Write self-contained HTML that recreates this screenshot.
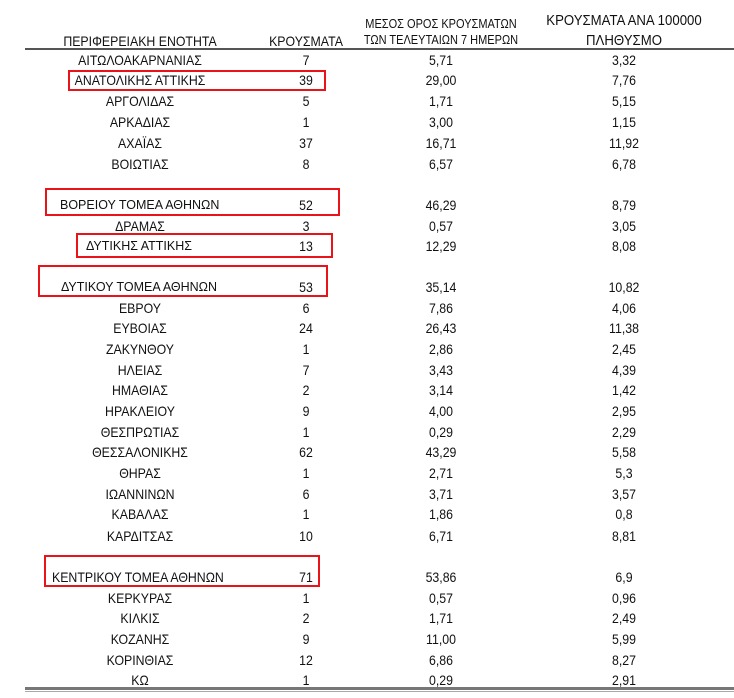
<!DOCTYPE html>
<html><head><meta charset="utf-8"><style>
body{margin:0;width:734px;height:698px;background:#fff;position:relative;overflow:hidden;font-family:"Liberation Sans","DejaVu Sans",sans-serif;color:#111}
.t{position:absolute;white-space:nowrap;transform:translate(-50%,-50%) scaleX(0.88);font-size:14px;line-height:16px}
.l{position:absolute;white-space:nowrap;transform:translateY(-50%);font-size:12.5px;line-height:14px}
.box{position:absolute;border:2px solid #e8141a;box-sizing:border-box}
.h{font-size:14px}
</style></head><body>
<div class="t h" style="left:140px;top:41px">ΠΕΡΙΦΕΡΕΙΑΚΗ ΕΝΟΤΗΤΑ</div>
<div class="t h" style="left:306px;top:41px">ΚΡΟΥΣΜΑΤΑ</div>
<div class="t" style="left:441px;top:24px;font-size:12.5px">ΜΕΣΟΣ ΟΡΟΣ ΚΡΟΥΣΜΑΤΩΝ</div>
<div class="t" style="left:441px;top:40px;font-size:12.5px">ΤΩΝ ΤΕΛΕΥΤΑΙΩΝ 7 ΗΜΕΡΩΝ</div>
<div class="t" style="left:624px;top:21px;font-size:15px">ΚΡΟΥΣΜΑΤΑ ΑΝΑ 100000</div>
<div class="t" style="left:624px;top:41px;font-size:15px">ΠΛΗΘΥΣΜΟ</div>
<div style="position:absolute;left:25px;right:0;top:48px;height:2px;background:#555"></div>
<div style="position:absolute;left:25px;right:0;top:687px;height:3px;background:#777"></div>
<div style="position:absolute;left:25px;right:0;top:691px;height:1px;background:#aaa"></div>

<div class="t" style="left:140px;top:60px">ΑΙΤΩΛΟΑΚΑΡΝΑΝΙΑΣ</div><div class="t" style="left:306px;top:60px">7</div><div class="t" style="left:441px;top:60px">5,71</div><div class="t" style="left:624px;top:60px">3,32</div>
<div class="t" style="left:140px;top:80px">ΑΝΑΤΟΛΙΚΗΣ ΑΤΤΙΚΗΣ</div><div class="t" style="left:306px;top:80px">39</div><div class="t" style="left:441px;top:80px">29,00</div><div class="t" style="left:624px;top:80px">7,76</div>
<div class="t" style="left:140px;top:101px">ΑΡΓΟΛΙΔΑΣ</div><div class="t" style="left:306px;top:101px">5</div><div class="t" style="left:441px;top:101px">1,71</div><div class="t" style="left:624px;top:101px">5,15</div>
<div class="t" style="left:140px;top:122px">ΑΡΚΑΔΙΑΣ</div><div class="t" style="left:306px;top:122px">1</div><div class="t" style="left:441px;top:122px">3,00</div><div class="t" style="left:624px;top:122px">1,15</div>
<div class="t" style="left:140px;top:143px">ΑΧΑΪΑΣ</div><div class="t" style="left:306px;top:143px">37</div><div class="t" style="left:441px;top:143px">16,71</div><div class="t" style="left:624px;top:143px">11,92</div>
<div class="t" style="left:140px;top:164px">ΒΟΙΩΤΙΑΣ</div><div class="t" style="left:306px;top:164px">8</div><div class="t" style="left:441px;top:164px">6,57</div><div class="t" style="left:624px;top:164px">6,78</div>
<div class="l" style="left:60px;top:205px">ΒΟΡΕΙΟΥ ΤΟΜΕΑ ΑΘΗΝΩΝ</div><div class="t" style="left:306px;top:205px">52</div><div class="t" style="left:441px;top:205px">46,29</div><div class="t" style="left:624px;top:205px">8,79</div>
<div class="t" style="left:140px;top:226px">ΔΡΑΜΑΣ</div><div class="t" style="left:306px;top:226px">3</div><div class="t" style="left:441px;top:226px">0,57</div><div class="t" style="left:624px;top:226px">3,05</div>
<div class="l" style="left:86px;top:246px">ΔΥΤΙΚΗΣ ΑΤΤΙΚΗΣ</div><div class="t" style="left:306px;top:246px">13</div><div class="t" style="left:441px;top:246px">12,29</div><div class="t" style="left:624px;top:246px">8,08</div>
<div class="l" style="left:61px;top:287px">ΔΥΤΙΚΟΥ ΤΟΜΕΑ ΑΘΗΝΩΝ</div><div class="t" style="left:306px;top:287px">53</div><div class="t" style="left:441px;top:287px">35,14</div><div class="t" style="left:624px;top:287px">10,82</div>
<div class="t" style="left:140px;top:308px">ΕΒΡΟΥ</div><div class="t" style="left:306px;top:308px">6</div><div class="t" style="left:441px;top:308px">7,86</div><div class="t" style="left:624px;top:308px">4,06</div>
<div class="t" style="left:140px;top:328px">ΕΥΒΟΙΑΣ</div><div class="t" style="left:306px;top:328px">24</div><div class="t" style="left:441px;top:328px">26,43</div><div class="t" style="left:624px;top:328px">11,38</div>
<div class="t" style="left:140px;top:349px">ΖΑΚΥΝΘΟΥ</div><div class="t" style="left:306px;top:349px">1</div><div class="t" style="left:441px;top:349px">2,86</div><div class="t" style="left:624px;top:349px">2,45</div>
<div class="t" style="left:140px;top:370px">ΗΛΕΙΑΣ</div><div class="t" style="left:306px;top:370px">7</div><div class="t" style="left:441px;top:370px">3,43</div><div class="t" style="left:624px;top:370px">4,39</div>
<div class="t" style="left:140px;top:390px">ΗΜΑΘΙΑΣ</div><div class="t" style="left:306px;top:390px">2</div><div class="t" style="left:441px;top:390px">3,14</div><div class="t" style="left:624px;top:390px">1,42</div>
<div class="t" style="left:140px;top:411px">ΗΡΑΚΛΕΙΟΥ</div><div class="t" style="left:306px;top:411px">9</div><div class="t" style="left:441px;top:411px">4,00</div><div class="t" style="left:624px;top:411px">2,95</div>
<div class="t" style="left:140px;top:432px">ΘΕΣΠΡΩΤΙΑΣ</div><div class="t" style="left:306px;top:432px">1</div><div class="t" style="left:441px;top:432px">0,29</div><div class="t" style="left:624px;top:432px">2,29</div>
<div class="t" style="left:140px;top:452px">ΘΕΣΣΑΛΟΝΙΚΗΣ</div><div class="t" style="left:306px;top:452px">62</div><div class="t" style="left:441px;top:452px">43,29</div><div class="t" style="left:624px;top:452px">5,58</div>
<div class="t" style="left:140px;top:473px">ΘΗΡΑΣ</div><div class="t" style="left:306px;top:473px">1</div><div class="t" style="left:441px;top:473px">2,71</div><div class="t" style="left:624px;top:473px">5,3</div>
<div class="t" style="left:140px;top:494px">ΙΩΑΝΝΙΝΩΝ</div><div class="t" style="left:306px;top:494px">6</div><div class="t" style="left:441px;top:494px">3,71</div><div class="t" style="left:624px;top:494px">3,57</div>
<div class="t" style="left:140px;top:514px">ΚΑΒΑΛΑΣ</div><div class="t" style="left:306px;top:514px">1</div><div class="t" style="left:441px;top:514px">1,86</div><div class="t" style="left:624px;top:514px">0,8</div>
<div class="t" style="left:140px;top:536px">ΚΑΡΔΙΤΣΑΣ</div><div class="t" style="left:306px;top:536px">10</div><div class="t" style="left:441px;top:536px">6,71</div><div class="t" style="left:624px;top:536px">8,81</div>
<div class="l" style="left:52px;top:577px;font-size:14px;transform:translateY(-50%) scaleX(0.88);transform-origin:left">ΚΕΝΤΡΙΚΟΥ ΤΟΜΕΑ ΑΘΗΝΩΝ</div><div class="t" style="left:306px;top:577px">71</div><div class="t" style="left:441px;top:577px">53,86</div><div class="t" style="left:624px;top:577px">6,9</div>
<div class="t" style="left:140px;top:598px">ΚΕΡΚΥΡΑΣ</div><div class="t" style="left:306px;top:598px">1</div><div class="t" style="left:441px;top:598px">0,57</div><div class="t" style="left:624px;top:598px">0,96</div>
<div class="t" style="left:140px;top:618px">ΚΙΛΚΙΣ</div><div class="t" style="left:306px;top:618px">2</div><div class="t" style="left:441px;top:618px">1,71</div><div class="t" style="left:624px;top:618px">2,49</div>
<div class="t" style="left:140px;top:639px">ΚΟΖΑΝΗΣ</div><div class="t" style="left:306px;top:639px">9</div><div class="t" style="left:441px;top:639px">11,00</div><div class="t" style="left:624px;top:639px">5,99</div>
<div class="t" style="left:140px;top:660px">ΚΟΡΙΝΘΙΑΣ</div><div class="t" style="left:306px;top:660px">12</div><div class="t" style="left:441px;top:660px">6,86</div><div class="t" style="left:624px;top:660px">8,27</div>
<div class="t" style="left:140px;top:680px">ΚΩ</div><div class="t" style="left:306px;top:680px">1</div><div class="t" style="left:441px;top:680px">0,29</div><div class="t" style="left:624px;top:680px">2,91</div>

<div class="box" style="left:68px;top:70px;width:258px;height:21px"></div>
<div class="box" style="left:45px;top:188px;width:295px;height:28px"></div>
<div class="box" style="left:76px;top:233px;width:257px;height:25px"></div>
<div class="box" style="left:38px;top:265px;width:290px;height:32px"></div>
<div class="box" style="left:44px;top:555px;width:276px;height:32px"></div>
</body></html>
